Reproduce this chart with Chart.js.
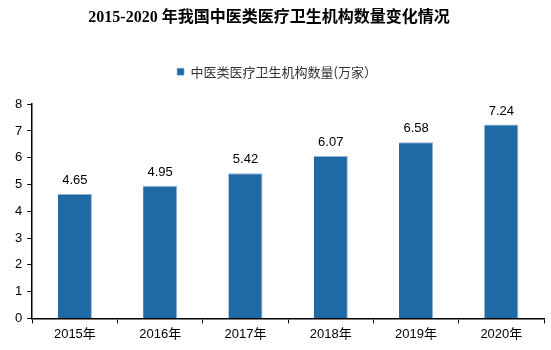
<!DOCTYPE html>
<html><head><meta charset="utf-8">
<script src="https://cdn.jsdelivr.net/npm/chart.js@4/dist/chart.umd.min.js"></script>
<style>html,body{margin:0;padding:0;background:#fff}#wrap{width:551px;height:350px}</style>
</head><body><div id="wrap"><canvas id="c" width="551" height="350"></canvas></div>
<script>
const categories = ["2015年","2016年","2017年","2018年","2019年","2020年"];
const values = [4.65, 4.95, 5.42, 6.07, 6.58, 7.24];
const yTicks = [0,1,2,3,4,5,6,7,8];
const seriesName = "中医类医疗卫生机构数量(万家）";
const titleText = "2015-2020 年我国中医类医疗卫生机构数量变化情况";

const labelPlugin = {
  id: 'lbl',
  afterDatasetsDraw(chart) {
    const ctx = chart.ctx;
    const meta = chart.getDatasetMeta(0);
    ctx.save();
    ctx.font = '13px "Liberation Sans", Arial, sans-serif';
    ctx.fillStyle = '#000';
    ctx.textAlign = 'center';
    ctx.textBaseline = 'bottom';
    meta.data.forEach((b, i) => {
      ctx.fillText(values[i].toFixed(2), b.x, b.y - 7);
    });
    ctx.restore();
  }
};
const legendGap = {
  id: 'legendGap',
  beforeInit(chart) {
    const lg = chart.legend;
    const orig = lg.fit;
    lg.fit = function() { orig.call(this); this.height += 16; };
  },
  afterLayout(chart) {
    const t = chart.titleBlock;
    if (t) { t.left -= 8; t.right -= 8; }
  }
};

new Chart(document.getElementById('c'), {
  type: 'bar',
  data: { labels: categories, datasets: [{ label: seriesName, data: values, backgroundColor: '#1f69a4', borderColor: '#8fb4d4', borderWidth: {right:1, top:1, left:0, bottom:0}, barPercentage: 0.4, categoryPercentage: 1.0 }] },
  options: {
    responsive: false, animation: false,
    layout: { padding: { left: 10, right: 7, top: 6, bottom: 5 } },
    plugins: {
      title: { display: true, text: titleText, color: '#000', font: { family: '"Liberation Serif", "Noto Sans CJK SC", serif', size: 16, weight: 'bold' }, padding: { top: 2, bottom: 28 } },
      legend: { display: true, labels: { boxWidth: 7, boxHeight: 7, color: '#333', font: { family: '"Noto Sans CJK SC", sans-serif', size: 13 }, padding: 10 } },
      tooltip: { enabled: false }
    },
    scales: {
      x: { offset: true, grid: { display: true, drawOnChartArea: false, tickLength: 5, color: '#000', offset: true }, border: { color: '#000', width: 1.5 },
           ticks: { color: '#000', font: { family: '"Liberation Sans", "Noto Sans CJK SC", sans-serif', size: 13 }, padding: 3 } },
      y: { min: 0, max: 8, afterBuildTicks: s => { s.ticks = yTicks.map(v => ({ value: v })); },
           grid: { display: true, drawOnChartArea: false, tickLength: 5, color: '#000' }, border: { color: '#000', width: 1.5 },
           ticks: { color: '#000', font: { family: '"Liberation Sans", sans-serif', size: 13 }, padding: 5 } }
    }
  },
  plugins: [labelPlugin, legendGap]
});
</script></body></html>
